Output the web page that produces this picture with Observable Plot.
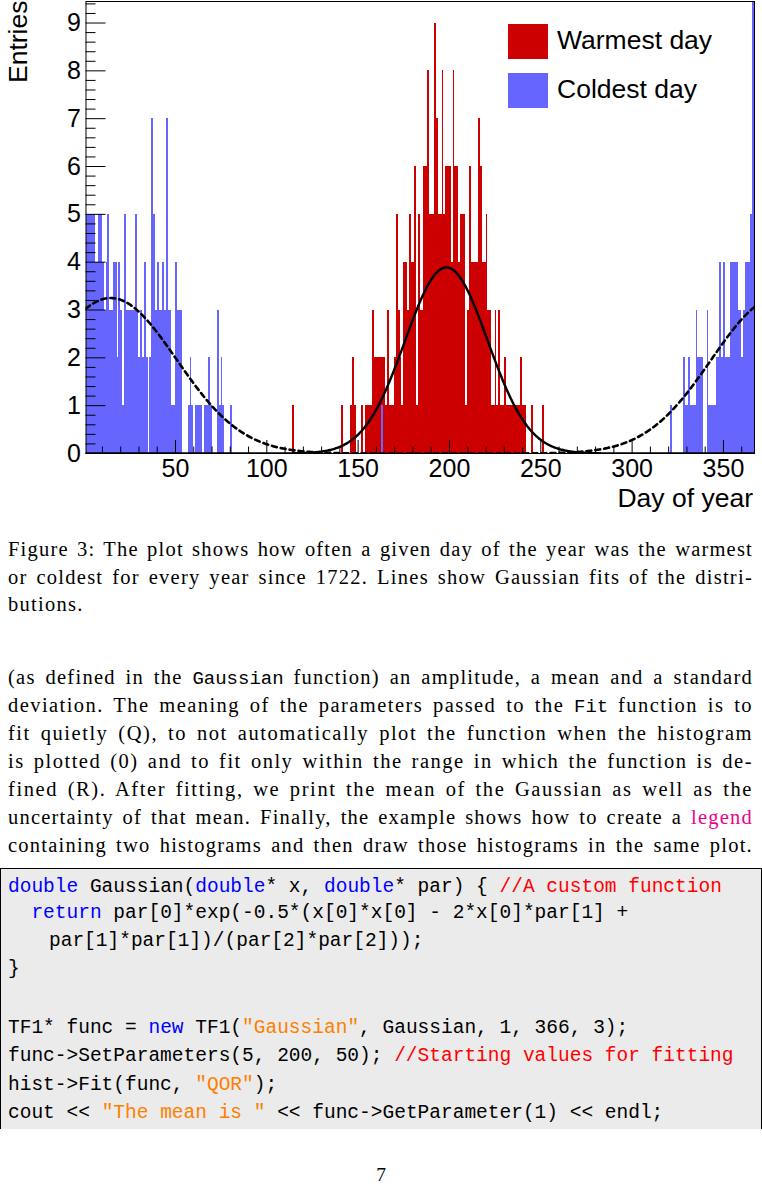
<!DOCTYPE html>
<html>
<head>
<meta charset="utf-8">
<script src="https://cdn.jsdelivr.net/npm/d3@7"></script>
<script src="https://cdn.jsdelivr.net/npm/@observablehq/plot@0.6"></script>
<style>
  html, body { margin: 0; padding: 0; background: #fff; }
  #page { position: relative; width: 762px; height: 1186px; overflow: hidden; }
  #chart { position: absolute; left: 0; top: 0; }
  .leg { position: absolute; font-family: "Liberation Sans", Arial, sans-serif; font-size: 26.5px; color: #000; white-space: nowrap; }
  .box { position: absolute; width: 40px; height: 35px; }
  .line { position: absolute; left: 8px; width: 745px; height: 28px; line-height: 28px;
          font-family: "Liberation Serif", "Times New Roman", serif; font-size: 20.5px; letter-spacing: 0.9px;
          white-space: nowrap; color: #000; }
  .j { text-align: justify; text-align-last: justify; }
  .tt { font-family: "Liberation Mono", monospace; font-size: 19px; letter-spacing: 0; }
  #code { position: absolute; left: 0; top: 868px; width: 760px; height: 260px; background: #ebebeb;
          border: 1px solid #000; border-bottom: none; overflow: hidden; }
  .cl { position: absolute; left: 7px; height: 28px; line-height: 28px; font-family: "Liberation Mono", monospace;
        font-size: 19.5px; white-space: pre; color: #000; }
  .kw { color: #0000ff; } .cm { color: #ff0000; } .st { color: #ff8000; }
  #pageno { position: absolute; left: 0; top: 1163px; width: 762px; height: 23px; line-height: 23px; text-align: center;
            font-family: "Liberation Serif", serif; font-size: 19.5px; }
</style>
</head>
<body>
<div id="page">
  <div id="chart"></div>
  <div class="box" style="left:508px;top:24px;background:#cc0000"></div>
  <div class="leg" style="left:557px;top:23px;line-height:35px">Warmest day</div>
  <div class="box" style="left:508px;top:73px;background:#6666ff"></div>
  <div class="leg" style="left:557px;top:72px;line-height:35px">Coldest day</div>

  <div class="line j" style="top:535px">Figure 3: The plot shows how often a given day of the year was the warmest</div>
  <div class="line j" style="top:563px">or coldest for every year since 1722. Lines show Gaussian fits of the distri-</div>
  <div class="line" id="lastcap" style="top:590px">butions.</div>

  <div class="line j" style="top:663px">(as defined in the <span class="tt">Gaussian</span> function) an amplitude, a mean and a standard</div>
  <div class="line j" style="top:691px">deviation. The meaning of the parameters passed to the <span class="tt">Fit</span> function is to</div>
  <div class="line j" style="top:719px">fit quietly (Q), to not automatically plot the function when the histogram</div>
  <div class="line j" style="top:747px">is plotted (0) and to fit only within the range in which the function is de-</div>
  <div class="line j" style="top:775px">fined (R). After fitting, we print the mean of the Gaussian as well as the</div>
  <div class="line j" style="top:803px">uncertainty of that mean. Finally, the example shows how to create a <span style="color:#ec008c">legend</span></div>
  <div class="line j" style="top:831px">containing two histograms and then draw those histograms in the same plot.</div>

  <div id="code">
    <div class="cl" style="top:4px"><span class="kw">double</span> Gaussian(<span class="kw">double</span>* x, <span class="kw">double</span>* par) { <span class="cm">//A custom function</span></div>
    <div class="cl" style="top:30px">  <span class="kw">return</span> par[0]*exp(-0.5*(x[0]*x[0] - 2*x[0]*par[1] +</div>
    <div class="cl" style="top:58px;left:48px">par[1]*par[1])/(par[2]*par[2]));</div>
    <div class="cl" style="top:86px">}</div>
    <div class="cl" style="top:145px">TF1* func = <span class="kw">new</span> TF1(<span class="st">"Gaussian"</span>, Gaussian, 1, 366, 3);</div>
    <div class="cl" style="top:173px">func-&gt;SetParameters(5, 200, 50); <span class="cm">//Starting values for fitting</span></div>
    <div class="cl" style="top:202px">hist-&gt;Fit(func, <span class="st">"QOR"</span>);</div>
    <div class="cl" style="top:230px">cout &lt;&lt; <span class="st">"The mean is "</span> &lt;&lt; func-&gt;GetParameter(1) &lt;&lt; endl;</div>
  </div>

  <div id="pageno">7</div>
</div>

<script>
// ---- Data (entries per day of year) ----
const warmFirstDay = 114;
const warmCounts = [ // days 114..251
  1,0,0,0,0,0,0,0,0,0,
  0,0,0,0,0,0,0,0,0,0,
  0,0,0,0,0,0,0,1,0,0,
  0,0,1,2,1,0,0,0,1,0,
  1,1,1,1,3,2,2,2,2,2,
  2,1,3,1,1,1,2,5,3,2,
  1,4,4,3,5,4,4,6,1,5,
  3,3,6,6,8,5,5,5,9,7,
  5,5,8,5,6,6,6,4,8,6,
  6,4,5,5,5,1,3,6,4,4,
  4,4,7,6,4,4,5,3,3,1,
  1,3,1,3,1,1,2,1,1,1,
  1,1,1,1,1,2,1,1,0,0,
  0,1,0,0,0,0,0,1
];
const coldEarlyCounts = [ // days 1..80
  5,5,5,5,5,4,4,5,5,4,
  3,4,5,3,3,4,4,2,4,3,
  1,5,3,3,3,3,3,5,3,2,
  3,2,4,2,0,2,7,5,3,4,
  3,3,4,3,7,3,3,1,1,4,
  3,3,3,0,0,0,1,2,1,0,
  1,1,1,1,0,1,1,2,1,0,
  0,0,3,1,2,1,0,0,0,1
];
const coldMidDays = [163];
const coldMidCounts = [1];
const coldLateFirstDay = 321;
const coldLateCounts = [ // days 321..366
  1,0,0,0,0,0,0,2,1,1,
  2,1,1,1,3,2,2,2,0,0,
  3,1,1,1,1,2,2,4,2,4,
  2,2,2,4,4,4,4,3,3,2,
  3,4,4,4,5,12
];

// Gaussian fit parameters
const warmFit = {amp: 3.89, mean: 198.3, sigma: 22.6};
const coldFit = {amp: 3.25, mean: 14.5, sigma: 36, period: 365};

const xMajorTicks = [50, 100, 150, 200, 250, 300, 350];
const yMajorTicks = [0, 1, 2, 3, 4, 5, 6, 7, 8, 9];

// ---- Build tables ----
const warm = warmCounts.map((c, i) => ({day: warmFirstDay + i, count: c})).filter(d => d.count > 0);
const cold = [
  ...coldEarlyCounts.map((c, i) => ({day: 1 + i, count: c})),
  ...coldMidDays.map((d, i) => ({day: d, count: coldMidCounts[i]})),
  ...coldLateCounts.map((c, i) => ({day: coldLateFirstDay + i, count: c}))
].filter(d => d.count > 0);

const gauss = (p, x) => p.amp * Math.exp(-0.5 * ((x - p.mean) / p.sigma) ** 2);
const fitX = d3.range(1, 367.001, 0.5);
const warmCurve = fitX.map(x => ({x, y: gauss(warmFit, x)}));
const coldCurve = fitX.map(x => ({x, y: gauss(coldFit, x) + gauss(coldFit, x - coldFit.period)}));

const xMinorTicks = d3.range(10, 367, 10).filter(v => !xMajorTicks.includes(v));
const yMinorTicks = d3.range(0, 9.45, 0.2).map(v => +v.toFixed(1)).filter(v => !yMajorTicks.includes(v));

const W = 762, H = 515, mL = 85.5, mR = 8, mT = 1, mB = 62;
const fw = W - mL - mR, fh = H - mT - mB;

const chart = Plot.plot({
  width: W, height: H,
  marginLeft: mL, marginRight: mR, marginTop: mT, marginBottom: mB,
  style: {fontFamily: "'Liberation Sans', Arial, sans-serif", fontSize: "25px", background: "white"},
  x: {domain: [1, 367]},
  y: {domain: [0, 9.45]},
  marks: [
    Plot.rect(warm, {x1: "day", x2: d => d.day + 1, y1: 0, y2: "count", fill: "#cc0000", inset: 0, shapeRendering: "crispEdges", clip: true}),
    Plot.rect(cold, {x1: "day", x2: d => d.day + 1, y1: 0, y2: "count", fill: "#6666ff", inset: 0, shapeRendering: "crispEdges", clip: true}),
    Plot.line(coldCurve, {x: "x", y: "y", stroke: "black", strokeWidth: 2.6, strokeDasharray: "5,4", clip: true}),
    Plot.line(warmCurve, {x: "x", y: "y", stroke: "black", strokeWidth: 2.4, clip: true}),
    Plot.frame({stroke: "black", strokeWidth: 1}),
    Plot.tickX(xMajorTicks, {x: d => d, insetTop: fh - 13, stroke: "black", strokeWidth: 1}),
    Plot.tickX(xMinorTicks, {x: d => d, insetTop: fh - 6.5, stroke: "black", strokeWidth: 1}),
    Plot.tickY(yMajorTicks, {y: d => d, insetRight: fw - 20, stroke: "black", strokeWidth: 1}),
    Plot.tickY(yMinorTicks, {y: d => d, insetRight: fw - 10, stroke: "black", strokeWidth: 1}),
    Plot.axisX({ticks: xMajorTicks, tickSize: 0, tickPadding: 6, label: null, tickFormat: d => String(d)}),
    Plot.axisY({ticks: yMajorTicks, tickSize: 0, tickPadding: 5, label: null, tickFormat: d => String(d)}),
    Plot.text(["Day of year"], {frameAnchor: "bottom-right", dx: -1.5, dy: 45, textAnchor: "end", lineAnchor: "middle", fontSize: 26.5}),
    Plot.text(["Entries"], {frameAnchor: "top-left", rotate: -90, dx: -67, dy: -1, textAnchor: "end", lineAnchor: "middle", fontSize: 26.5})
  ]
});
document.getElementById("chart").appendChild(chart);

// Spread letters so that justified lines need only modest word gaps (like the TeX original)
document.querySelectorAll(".line.j").forEach(el => {
  el.style.letterSpacing = "0px";
  el.style.width = "auto";
  el.style.textAlignLast = "left";
  const natural = el.getBoundingClientRect().width;
  const nChars = el.textContent.length;
  const ls = Math.max(0, Math.min(2, (745 - natural) * 0.75 / nChars));
  el.style.letterSpacing = ls.toFixed(2) + "px";
  el.style.width = "745px";
  el.style.textAlignLast = "justify";
  if (el.nextElementSibling && el.nextElementSibling.id === "lastcap") {
    el.nextElementSibling.style.letterSpacing = ls.toFixed(2) + "px";
  }
});
</script>
</body>
</html>
